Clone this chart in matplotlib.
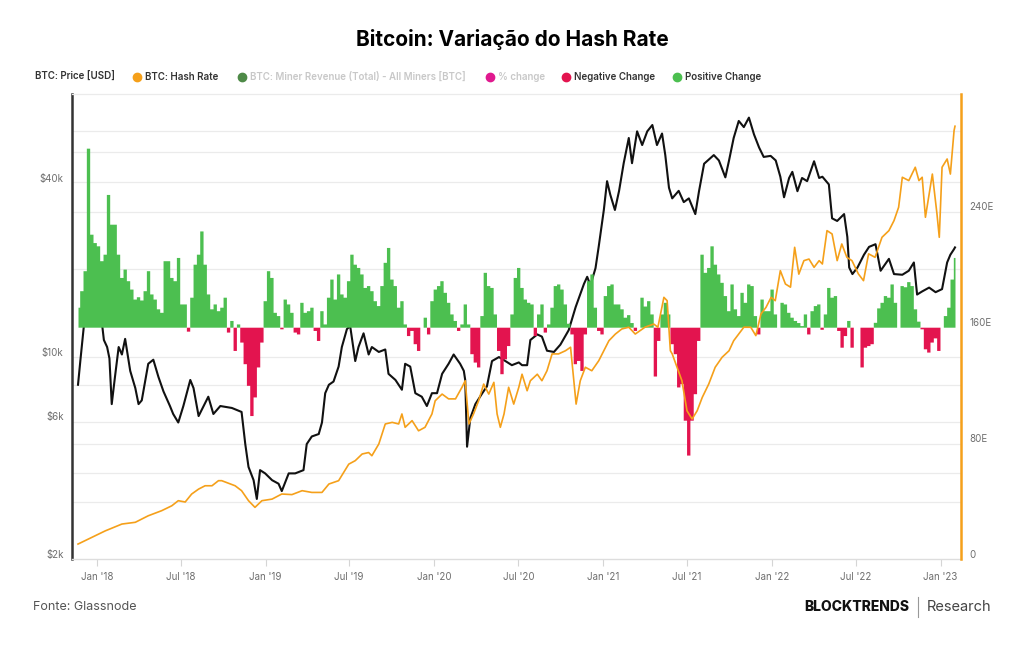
"""Bitcoin: Variação do Hash Rate - preço, hash rate e variação %."""
import numpy as np
import pandas as pd
import matplotlib
matplotlib.use("Agg")
import matplotlib.pyplot as plt
import matplotlib.dates as mdates
from matplotlib.lines import Line2D

plt.rcParams["font.family"] = ["Inter", "DejaVu Sans"]

# ── Dados ──────────────────────────────────────────────────────────────────
price_dates = [
    "2017-11-21", "2017-11-26", "2017-12-03", "2017-12-10", "2017-12-17", "2017-12-24",
    "2018-01-06", "2018-01-12", "2018-01-16", "2018-01-23", "2018-01-28", "2018-02-02",
    "2018-02-09", "2018-02-17", "2018-02-24", "2018-03-03", "2018-03-14", "2018-03-25",
    "2018-04-01", "2018-04-08", "2018-04-22", "2018-05-03", "2018-05-14", "2018-05-25",
    "2018-06-08", "2018-06-15", "2018-06-26", "2018-07-07", "2018-07-22", "2018-07-29",
    "2018-08-09", "2018-08-20", "2018-08-30", "2018-09-10", "2018-09-25", "2018-10-20",
    "2018-11-10", "2018-11-18", "2018-11-25", "2018-12-06", "2018-12-13", "2018-12-20",
    "2018-12-31", "2019-01-15", "2019-01-29", "2019-02-05", "2019-02-20", "2019-03-06",
    "2019-03-24", "2019-03-31", "2019-04-11", "2019-04-26", "2019-05-03", "2019-05-10",
    "2019-05-18", "2019-05-28", "2019-06-08", "2019-06-15", "2019-06-26", "2019-07-03",
    "2019-07-14", "2019-07-21", "2019-08-01", "2019-08-12", "2019-08-19", "2019-09-03",
    "2019-09-17", "2019-09-24", "2019-10-09", "2019-10-23", "2019-10-30", "2019-11-10",
    "2019-11-21", "2019-12-05", "2019-12-16", "2019-12-27", "2020-01-07", "2020-01-18",
    "2020-02-01", "2020-02-12", "2020-02-26", "2020-03-05", "2020-03-08", "2020-03-12",
    "2020-03-19", "2020-03-30", "2020-04-14", "2020-04-24", "2020-05-05", "2020-05-20",
    "2020-06-03", "2020-06-17", "2020-07-02", "2020-07-09", "2020-07-20", "2020-07-27",
    "2020-08-11", "2020-08-21", "2020-09-01", "2020-09-16", "2020-09-30", "2020-10-18",
    "2020-11-02", "2020-11-20", "2020-11-27", "2020-12-04", "2020-12-15", "2020-12-22",
    "2021-01-02", "2021-01-09", "2021-01-16", "2021-01-26", "2021-02-04", "2021-02-14",
    "2021-02-25", "2021-03-04", "2021-03-15", "2021-03-26", "2021-04-06", "2021-04-17",
    "2021-04-27", "2021-05-08", "2021-05-15", "2021-05-23", "2021-05-30", "2021-06-13",
    "2021-06-24", "2021-07-05", "2021-07-19", "2021-07-27", "2021-08-07", "2021-08-17",
    "2021-08-28", "2021-09-08", "2021-09-22", "2021-09-30", "2021-10-10", "2021-10-21",
    "2021-11-01", "2021-11-12", "2021-11-23", "2021-12-04", "2021-12-14", "2021-12-29",
    "2022-01-09", "2022-01-19", "2022-01-27", "2022-02-07", "2022-02-14", "2022-02-25",
    "2022-03-07", "2022-03-18", "2022-04-02", "2022-04-13", "2022-04-20", "2022-05-04",
    "2022-05-11", "2022-05-22", "2022-06-06", "2022-06-13", "2022-06-17", "2022-06-24",
    "2022-07-05", "2022-07-19", "2022-07-30", "2022-08-13", "2022-08-24", "2022-09-11",
    "2022-09-22", "2022-10-10", "2022-10-24", "2022-11-04", "2022-11-11", "2022-11-22",
    "2022-12-07", "2022-12-21", "2023-01-04", "2023-01-15", "2023-01-22", "2023-01-30",
    "2023-02-01",
]
price_usd = [
    7700, 9300, 12000, 15000, 19000, 14500,
    16500, 12500, 11000, 10400, 9500, 6600,
    8200, 10400, 9800, 11100, 8600, 7500,
    6600, 6800, 9100, 9400, 8200, 7300,
    6500, 6100, 5700, 6500, 8000, 7500,
    6000, 6500, 7000, 6100, 6500, 6400,
    6200, 4800, 4000, 3600, 3100, 3900,
    3800, 3600, 3500, 3300, 3800, 3800,
    3900, 4800, 5100, 5200, 5700, 7200,
    7700, 7900, 8900, 10400, 12000, 12300,
    9300, 10400, 11600, 9800, 10400, 10000,
    10200, 8400, 8000, 7400, 9100, 8900,
    7200, 7000, 6500, 7200, 7200, 8400,
    9100, 9800, 9100, 8600, 8000, 4700,
    5900, 6600, 7200, 7600, 9300, 9600,
    9300, 9000, 9200, 9000, 9000, 11000,
    11500, 11300, 10100, 10000, 10600, 11900,
    14300, 17200, 18200, 17000, 19500, 23200,
    31000, 39000, 35000, 31000, 36100, 45000,
    55000, 45000, 58000, 52000, 58000, 61000,
    52000, 57000, 48000, 37000, 34000, 36100,
    33000, 34000, 30000, 36000, 44800, 46300,
    48000, 46000, 40200, 46000, 55000, 63000,
    60000, 64700, 56600, 51000, 47300, 47700,
    46000, 40400, 34300, 40000, 42000, 36000,
    40000, 39000, 45700, 40000, 40400, 38000,
    29000, 28400, 30000, 25000, 19600, 18600,
    19600, 21700, 23100, 23600, 19100, 21000,
    18600, 18500, 19100, 20400, 15800, 16200,
    16700, 16100, 16500, 20400, 21700, 22700,
    23000,
]

hash_dates = [
    "2017-11-21", "2017-12-21", "2018-01-19", "2018-02-24", "2018-03-25", "2018-04-22",
    "2018-05-21", "2018-06-12", "2018-06-26", "2018-07-11", "2018-07-25", "2018-08-09",
    "2018-08-23", "2018-09-07", "2018-09-21", "2018-09-28", "2018-10-27", "2018-11-10",
    "2018-11-25", "2018-12-09", "2018-12-24", "2019-01-15", "2019-02-05", "2019-02-27",
    "2019-03-21", "2019-04-11", "2019-05-03", "2019-05-18", "2019-06-08", "2019-06-30",
    "2019-07-14", "2019-07-29", "2019-08-12", "2019-08-19", "2019-09-03", "2019-09-17",
    "2019-10-02", "2019-10-16", "2019-10-23", "2019-10-30", "2019-11-14", "2019-11-28",
    "2019-12-12", "2019-12-27", "2020-01-03", "2020-01-18", "2020-02-01", "2020-02-16",
    "2020-03-01", "2020-03-08", "2020-03-16", "2020-03-26", "2020-04-06", "2020-04-17",
    "2020-04-28", "2020-05-09", "2020-05-16", "2020-05-23", "2020-05-31", "2020-06-10",
    "2020-06-21", "2020-07-02", "2020-07-09", "2020-07-20", "2020-07-27", "2020-08-11",
    "2020-08-21", "2020-09-01", "2020-09-12", "2020-09-26", "2020-10-11", "2020-10-22",
    "2020-10-29", "2020-11-03", "2020-11-12", "2020-11-23", "2020-12-07", "2020-12-22",
    "2021-01-13", "2021-01-27", "2021-02-10", "2021-02-25", "2021-03-11", "2021-04-01",
    "2021-04-20", "2021-04-29", "2021-05-12", "2021-05-19", "2021-05-26", "2021-05-30",
    "2021-06-20", "2021-07-01", "2021-07-12", "2021-07-23", "2021-08-03", "2021-08-17",
    "2021-08-31", "2021-09-15", "2021-09-30", "2021-10-10", "2021-10-21", "2021-11-01",
    "2021-11-16", "2021-11-27", "2021-12-08", "2021-12-19", "2021-12-30", "2022-01-08",
    "2022-01-19", "2022-01-30", "2022-02-10", "2022-02-19", "2022-02-28", "2022-03-11",
    "2022-03-22", "2022-04-02", "2022-04-13", "2022-04-20", "2022-04-30", "2022-05-11",
    "2022-05-22", "2022-06-01", "2022-06-12", "2022-06-23", "2022-07-07", "2022-07-18",
    "2022-07-29", "2022-08-12", "2022-08-27", "2022-09-11", "2022-09-22", "2022-10-02",
    "2022-10-10", "2022-10-24", "2022-11-07", "2022-11-15", "2022-11-22", "2022-11-29",
    "2022-12-14", "2022-12-24", "2022-12-29", "2023-01-04", "2023-01-15", "2023-01-22",
    "2023-01-30", "2023-02-01",
]
hash_rate = [
    6.9, 11.5, 16.0, 20.7, 21.9, 26.4,
    29.9, 33.3, 36.8, 35.9, 41.4, 44.8,
    47.1, 47.1, 50.6, 50.6, 47.1, 43.7,
    36.8, 32.2, 36.8, 37.9, 41.4, 41.0,
    43.7, 42.5, 42.5, 48.3, 50.6, 62.0,
    64.4, 69.0, 70.0, 67.8, 75.9, 89.7,
    90.8, 89.7, 96.6, 87.4, 92.0, 85.0,
    87.4, 96.6, 105.7, 110.3, 107.0, 107.0,
    115.0, 119.5, 89.7, 96.6, 105.7, 117.2,
    110.3, 118.4, 96.6, 87.4, 96.6, 115.0,
    103.4, 115.0, 124.0, 112.6, 119.5, 124.0,
    119.5, 126.4, 138.0, 138.0, 140.2, 142.6,
    119.5, 103.4, 119.5, 128.8, 126.4, 133.3,
    147.1, 151.7, 155.2, 156.4, 151.7, 156.4,
    158.6, 156.4, 177.0, 174.7, 140.2, 138.0,
    119.5, 98.8, 93.1, 98.8, 108.0, 117.2,
    128.8, 135.7, 140.2, 147.1, 151.7, 156.4,
    156.4, 150.6, 165.5, 170.1, 177.0, 174.7,
    195.4, 186.2, 184.0, 211.5, 193.0, 202.3,
    203.4, 197.7, 202.3, 200.0, 223.0, 220.7,
    202.3, 213.8, 204.6, 202.3, 193.1, 188.5,
    207.0, 204.6, 218.4, 223.0, 229.9, 239.1,
    259.8, 257.5, 266.7, 257.5, 259.8, 232.2,
    262.0, 234.5, 218.4, 266.7, 272.4, 262.0,
    292.0, 295.0,
]

# variação % (barras semanais)
pct_change = [
    # nov/2017 - set/2018
    8.6, 15.7, 24.3, 77.0, 40.0, 36.4, 35.0, 28.6, 31.4, 57.1, 44.3, 44.3, 31.4, 21.4, 25.0,
    20.0, 16.4, 12.1, 13.1, 11.7, 15.7, 24.3, 14.3, 12.1, 7.9, 6.4, 28.6, 28.6, 21.4, 20.0,
    30.0, 10.0, 10.0, -1.7, 12.9, 27.1, 31.4, 41.4, 27.1, 14.3, 7.9, 10.0, 7.1, 8.6,
    # set/2018 - ago/2019
    12.9, -2.1, 2.9, -10.0, 1.4, -6.4, -15.7, -25.0, -38.0, -30.0, -17.1, -6.4, 11.4, 24.3, 21.4,
    6.4, 5.0, -0.7, 12.1, 10.0, 6.4, -2.1, -2.9, 10.7, 6.4, 7.1, 8.6, -1.4, -5.7, 7.1,
    1.4, 12.9, 20.7, 12.1, 22.9, 14.3, 12.9, 20.0, 31.4, 27.1, 25.7, 22.9, 17.1, 17.9, 15.7,
    # ago/2019 - jul/2020
    11.4, 9.3, 17.9, 27.9, 34.3, 20.7, 17.9, 8.6, 11.4, 1.4, -3.6, -1.4, -7.1, -10.0, 0.0,
    4.3, -2.9, 11.4, 16.4, 17.9, 20.0, 15.0, 10.7, 5.7, 2.9, -1.4, 1.4, 10.0, 1.4, -11.4,
    -15.0, -17.1, 5.0, 23.6, 17.9, 17.1, 5.7, -10.0, -20.0, -13.6, -7.9, 5.7, 21.4, 25.7, 17.1,
    # jul/2020 - mai/2021
    12.1, 10.7, 10.0, -3.6, 5.7, 10.0, -2.1, 1.4, 8.6, 17.9, 18.6, 16.4, 10.0, 1.7, -2.9,
    -15.7, -14.3, -18.6, -2.9, 20.0, 22.9, 8.6, -1.4, -2.9, 13.6, 17.9, 18.6, 10.0, 10.0, 7.9,
    4.3, 5.4, 2.0, -1.4, 0.0, 12.9, 9.1, 11.4, 5.7, -21.0, -5.7, 5.7, 10.7, 5.7, -7.1,
    # mai/2021 - abr/2022
    -11.4, -25.7, -24.3, -40.0, -55.0, -40.0, -28.6, -5.7, 31.4, 23.6, 25.7, 35.0, 27.1, 22.9, 19.3,
    13.6, 7.1, 18.6, 7.9, 5.0, 15.0, 10.7, 18.6, 17.9, 5.0, -2.9, 12.1, 7.1, 7.1, 16.4,
    5.7, 0.0, 10.7, 10.0, 6.4, 4.3, 2.9, 2.0, 0.7, 5.7, -2.9, 7.1, 9.3, 10.0, -0.9,
    # abr/2022 - jan/2023
    5.7, 17.1, 12.9, 13.6, -1.4, -8.6, -3.6, 2.9, -8.6, 0.0, 0.0, -17.1, -8.6, -7.9, -7.1,
    2.1, 8.3, 10.7, 13.6, 12.9, 18.6, 10.7, 0.0, 17.9, 17.4, 19.6, 17.9, 7.9, 2.6, -0.7,
    -9.3, -10.7, -6.4, -4.6, -10.0, 0.0, 5.0, 8.6, 20.7, 30.0,
]
bar_start, bar_end = "2017-11-21", "2023-02-01"

price_ticks = [2000, 6000, 10000, 40000]
price_tick_labels = ["$2k", "$6k", "$10k", "$40k"]
hash_ticks = [0, 80, 160, 240]
hash_tick_labels = ["0", "80E", "160E", "240E"]

# linhas de grade (nível em USD no eixo log)
GRID_LEVELS = [3030, 3820, 4800, 5740, 7690, 9580, 19300, 30600, 38600, 49200, 58000]

COLORS = {
    "price": "#111111",
    "hash": "#f5a01a",
    "pos": "#4cbf50",
    "neg": "#e3144f",
    "miner": "#4e8a47",
    "pct": "#e0198f",
    "grid": "#ebebeb",
    "tick": "#6e6e6e",
}

# ── Figura ────────────────────────────────────────────────────────────────
fig = plt.figure(figsize=(10.24, 6.45), dpi=100, facecolor="white")
ax = fig.add_axes([72 / 1024, 1 - 559 / 645, 889 / 1024, 465 / 645])
ax_bar = ax.twinx()
ax_hash = ax.twinx()

pdates = pd.to_datetime(price_dates)
hdates = pd.to_datetime(hash_dates)
bdates = pd.date_range(bar_start, bar_end, periods=len(pct_change))
pct = np.array(pct_change)

# preço (log)
ax.set_yscale("log")
ax.set_ylim(1921, 78100)
for lvl in GRID_LEVELS:
    ax.axhline(lvl, color=COLORS["grid"], lw=0.9, zorder=0)
ax.plot(pdates, price_usd, color=COLORS["price"], lw=1.5, zorder=2)
ax.set_yticks(price_ticks)
ax.set_yticklabels(price_tick_labels)
ax.yaxis.set_minor_locator(plt.NullLocator())
ax.tick_params(axis="y", length=0, pad=6, labelsize=7, labelcolor=COLORS["tick"])

# barras de variação % (área em degraus, semanal)
pos = np.where(pct > 0, pct, 0)
neg = np.where(pct < 0, pct, 0)
ax_bar.fill_between(bdates, 0, pos, step="mid", color=COLORS["pos"], lw=0)
ax_bar.fill_between(bdates, 0, neg, step="mid", color=COLORS["neg"], lw=0)
ax_bar.set_ylim(-99.7, 100.3)
ax_bar.set_yticks([])

# hash rate
ax_hash.plot(hdates, hash_rate, color=COLORS["hash"], lw=1.2)
ax_hash.set_ylim(-3.4, 317.2)
ax_hash.set_yticks(hash_ticks)
ax_hash.set_yticklabels(hash_tick_labels)
ax_hash.tick_params(axis="y", length=0, pad=6, labelsize=7, labelcolor=COLORS["tick"])

# eixo x
ax.set_xlim(pd.Timestamp("2017-11-08"), pd.Timestamp("2023-02-14"))
ax.xaxis.set_major_locator(mdates.MonthLocator(bymonth=[1, 7]))
ax.xaxis.set_major_formatter(mdates.DateFormatter("%b '%y"))
ax.tick_params(axis="x", length=5, width=0.8, color="#d5d5d5", pad=4,
               labelsize=7, labelcolor=COLORS["tick"])

for a in (ax, ax_bar, ax_hash):
    for s in a.spines.values():
        s.set_visible(False)
ax.spines["left"].set_visible(True)
ax.spines["left"].set_color("#333333")
ax.spines["left"].set_linewidth(1.8)
ax.spines["bottom"].set_visible(True)
ax.spines["bottom"].set_color("#dddddd")
ax.spines["bottom"].set_linewidth(1.0)
ax.spines["top"].set_visible(True)
ax.spines["top"].set_color(COLORS["grid"])
ax.spines["top"].set_linewidth(0.9)
ax_hash.spines["right"].set_visible(True)
ax_hash.spines["right"].set_color(COLORS["hash"])
ax_hash.spines["right"].set_linewidth(1.8)

# ── Título e legenda ──────────────────────────────────────────────────────
fig.text(0.5, 1 - 40 / 645, "Bitcoin: Variação do Hash Rate", ha="center", va="center",
         fontsize=15, fontweight="bold", color="black")

legend_items = [
    (35, None, "BTC: Price [USD]", "#333333"),
    (137, COLORS["hash"], "BTC: Hash Rate", "#333333"),
    (242, COLORS["miner"], "BTC: Miner Revenue (Total) - All Miners [BTC]", "#c8c8c8"),
    (490, COLORS["pct"], "% change", "#c8c8c8"),
    (566, COLORS["neg"], "Negative Change", "#333333"),
    (677, COLORS["pos"], "Positive Change", "#333333"),
]
ly = 1 - 77 / 645
for x, col, label, tcol in legend_items:
    tx = x
    if col is not None:
        fig.add_artist(Line2D([x / 1024], [ly], marker="o", markersize=6, color=col,
                              lw=0, transform=fig.transFigure))
        tx = x + 8
    fig.text(tx / 1024, ly, label, ha="left", va="center", fontsize=7,
             fontweight="semibold", color=tcol)

# ── Rodapé ────────────────────────────────────────────────────────────────
fy = 1 - 607 / 645
fig.text(33 / 1024, fy, "Fonte: Glassnode", ha="left", va="center", fontsize=9, color="#555555")
fig.text(909 / 1024, fy, "BLOCKTRENDS", ha="right", va="center", fontsize=10,
         fontweight="heavy", color="#111111")
fig.add_artist(Line2D([918 / 1024, 918 / 1024], [1 - 597 / 645, 1 - 617 / 645],
                      color="#999999", lw=0.8, transform=fig.transFigure))
fig.text(927 / 1024, fy, "Research", ha="left", va="center", fontsize=10.5, color="#444444")

fig.savefig("out.png", dpi=100, facecolor="white")
